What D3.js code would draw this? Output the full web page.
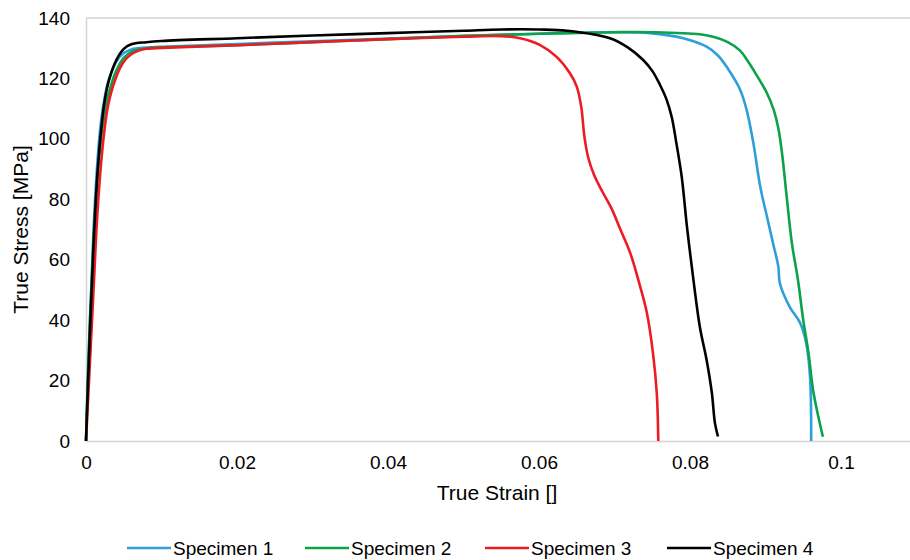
<!DOCTYPE html>
<html><head><meta charset="utf-8">
<script src="https://cdn.jsdelivr.net/npm/d3@7"></script>
<style>
html,body{margin:0;padding:0;background:#fff;}
svg{display:block;font-family:"Liberation Sans",Arial,sans-serif;}
</style></head>
<body><svg id="c" width="910" height="560"></svg>
<script>
// ---- data ----
const seriesNames = ["Specimen 1","Specimen 2","Specimen 3","Specimen 4"];
const seriesColors = ["#2E9FDB","#0BA24A","#EC1C24","#000000"];
const xTicks = [0,0.02,0.04,0.06,0.08,0.1];
const xTickLabels = ["0","0.02","0.04","0.06","0.08","0.1"];
const yTicks = [0,20,40,60,80,100,120,140];

// [strain, stress]
const specimen1 = [[0,0],[0.0005,39],[0.001,70],[0.0015,92],[0.002,106],[0.0025,114],[0.003,119.5],[0.004,125.5],[0.005,128.4],[0.006,129.6],[0.008,130.2],[0.01,130.5],[0.02,131.4],[0.03,132.3],[0.04,133.2],[0.05,134.0],[0.06,134.8],[0.07,135.3],[0.0747,135.0],[0.0791,133.3],[0.0822,130.5],[0.0837,127.6],[0.0850,123.3],[0.0866,116.5],[0.0875,109.6],[0.0884,98.5],[0.0893,84.2],[0.0902,74.2],[0.0910,65.4],[0.0917,57.7],[0.0919,52.2],[0.0932,44.4],[0.0946,39.0],[0.0954,32.3],[0.0959,21.3],[0.09605,0]];
const specimen2 = [[0,0],[0.0003,25],[0.0008,55],[0.0013,80],[0.002,100],[0.0025,109],[0.003,115],[0.004,122.5],[0.005,126.8],[0.006,128.8],[0.008,130],[0.01,130.3],[0.02,131.0],[0.03,132.0],[0.04,133.0],[0.05,134.1],[0.06,134.8],[0.07,135.3],[0.075,135.3],[0.0813,134.6],[0.0833,133.6],[0.0850,132.0],[0.0866,129.3],[0.0878,125.2],[0.0888,121.2],[0.0902,115.1],[0.0911,109.5],[0.0917,103.5],[0.0922,95],[0.0928,81],[0.0935,65.4],[0.0943,53.3],[0.0950,40.0],[0.0957,29.0],[0.0963,16.9],[0.0970,8.0],[0.0976,1.4]];
const specimen3 = [[0,0],[0.0004,20],[0.001,50],[0.0015,75],[0.002,92],[0.0025,104],[0.003,112],[0.004,120.5],[0.005,125.5],[0.006,128],[0.007,129.2],[0.008,129.8],[0.01,130.1],[0.02,131.0],[0.03,132.0],[0.04,133.0],[0.05,133.8],[0.055,134.0],[0.0575,133.3],[0.0601,131.1],[0.0623,127.2],[0.0641,121.7],[0.0650,117.3],[0.0656,110.5],[0.0660,101],[0.0665,94],[0.0673,88],[0.0684,82.5],[0.0696,77],[0.0707,70.5],[0.0721,62.1],[0.0734,51.1],[0.0743,42.3],[0.0751,29.0],[0.0756,15.8],[0.0758,0]];
const specimen4 = [[0,0],[0.0005,35],[0.001,65],[0.0015,88],[0.002,103],[0.0025,113],[0.003,119],[0.004,126],[0.005,129.8],[0.006,131.3],[0.008,132],[0.01,132.4],[0.02,133.3],[0.03,134.2],[0.04,135.0],[0.05,135.8],[0.055,136.2],[0.06,136.2],[0.0637,135.8],[0.0694,133.3],[0.0718,130.2],[0.0738,126.1],[0.0750,122.5],[0.0760,118],[0.0769,113],[0.0776,107],[0.0782,98.5],[0.0789,87.5],[0.0796,70.9],[0.0804,54.4],[0.0813,37.8],[0.0822,26.8],[0.0829,15.8],[0.0833,6],[0.0837,1.5]];
const allSeries = [specimen1,specimen2,specimen3,specimen4];

// ---- layout ----
const svg = d3.select("#c");
const L = 86, T = 18, B = 441;
const x = d3.scaleLinear().domain([0,0.11]).range([L, L + 0.11*7550]);
const y = d3.scaleLinear().domain([0,140]).range([B, T]);
const grid = "#D4D4D4";

// plot border
svg.append("line").attr("x1",L).attr("x2",x(0.11)).attr("y1",T).attr("y2",T).attr("stroke",grid).attr("stroke-width",1.5);
svg.append("line").attr("x1",x(0.11)).attr("x2",x(0.11)).attr("y1",T).attr("y2",B).attr("stroke",grid).attr("stroke-width",1.5);

// axes
const xAxis = d3.axisBottom(x).tickValues(xTicks).tickFormat((d,i)=>xTickLabels[i]).tickSize(0).tickPadding(15);
const gx = svg.append("g").attr("transform",`translate(0,${B})`).call(xAxis);
gx.select(".domain").attr("stroke",grid).attr("stroke-width",1.5);
gx.selectAll("text").attr("font-size",19).attr("fill","#000").attr("font-family","Liberation Sans, Arial, sans-serif");

const yAxis = d3.axisLeft(y).tickValues(yTicks).tickSize(0).tickPadding(16);
const gy = svg.append("g").attr("transform",`translate(${L},0)`).call(yAxis);
gy.select(".domain").attr("stroke",grid).attr("stroke-width",1.5);
gy.selectAll("text").attr("font-size",19).attr("fill","#000").attr("font-family","Liberation Sans, Arial, sans-serif");

// axis titles
svg.append("text").attr("x",497).attr("y",500).attr("text-anchor","middle").attr("font-size",21).text("True Strain []");
svg.append("text").attr("transform",`translate(28,${(T+B)/2}) rotate(-90)`).attr("text-anchor","middle").attr("font-size",21).text("True Stress [MPa]");

// lines
const line = d3.line().x(d=>x(d[0])).y(d=>y(d[1])).curve(d3.curveCatmullRom.alpha(0.5));
allSeries.forEach((s,i)=>{
  svg.append("path").datum(s).attr("d",line).attr("fill","none")
    .attr("stroke",seriesColors[i]).attr("stroke-width",2.6).attr("stroke-linejoin","round");
});

// legend
const legX = [127,305,485,667];
const legY = 548;
seriesNames.forEach((n,i)=>{
  svg.append("line").attr("x1",legX[i]).attr("x2",legX[i]+44).attr("y1",legY).attr("y2",legY)
    .attr("stroke",seriesColors[i]).attr("stroke-width",2.6);
  svg.append("text").attr("x",legX[i]+46).attr("y",legY+7).attr("font-size",19).text(n);
});
</script></body></html>
